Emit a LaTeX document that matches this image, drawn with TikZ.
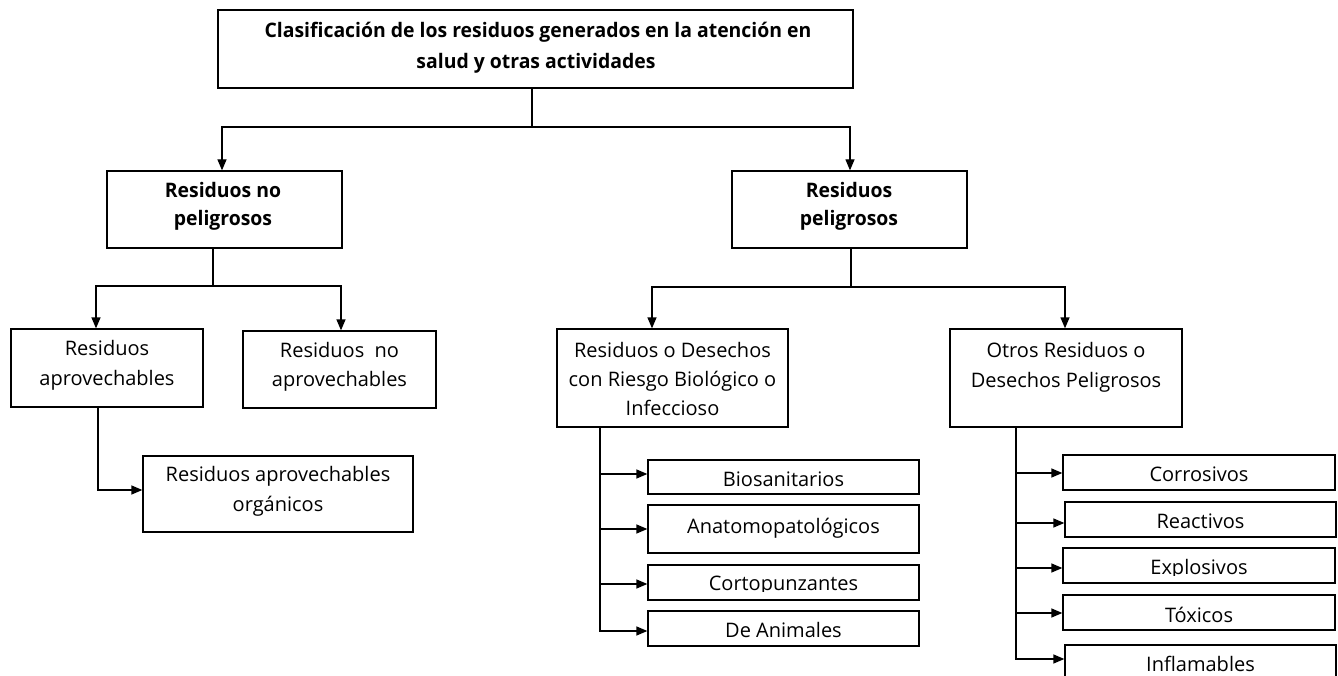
\documentclass[tikz,border=0pt]{standalone}
\usepackage{fontspec}
\setmainfont{Open Sans}
\newfontfamily\bfcond{Open Sans}[FakeStretch=0.97]
\usetikzlibrary{arrows.meta}
\newcommand\bx[5]{\node[box,minimum width={#4-#2},minimum height={#5-#3}] (#1) at ({(#2+#4)/2},{(#3+#5)/2}) {};}
\begin{document}
\begin{tikzpicture}[x=1pt,y=-1pt,
  box/.style={draw, line width=1.3pt, inner sep=0pt, rectangle},
  lbl/.style={inner sep=0pt, anchor=base, font=\fontsize{20}{24}\selectfont},
  blbl/.style={inner sep=0pt, anchor=base, font=\fontsize{20}{24}\selectfont\bfcond\bfseries},
  conn/.style={line width=1.3pt},
  arr/.style={line width=1.3pt, -{Triangle[length=11pt,width=9pt]}}]
\useasboundingbox (0,0) rectangle (1338,676);

% boxes
\bx{top}{218}{10}{853}{88}
\bx{np}{107}{171}{342}{248}
\bx{pe}{732}{171}{967}{248}
\bx{ra}{11}{329}{203}{407}
\bx{rna}{243}{331}{436}{408}
\bx{rao}{143}{456}{413}{532}
\bx{rb}{557}{329}{788}{427}
\bx{ro}{950}{329}{1182}{427}
\bx{bio}{648}{460}{919}{494}
\bx{ana}{648}{505}{919}{553}
\bx{cor}{648}{565}{919}{600}
\bx{ani}{648}{611}{919}{646}
\bx{crr}{1063}{455}{1335}{490}
\bx{rea}{1065}{502}{1336}{537}
\bx{exq}{1063}{548}{1335}{583}
\bx{tox}{1063}{595}{1335}{630}
\bx{inf}{1065}{645}{1336}{700}

% texts
\node[blbl] (top1) at (538,38) {Clasificación de los residuos generados en la atención en};
\node[blbl] (top2) at (536,69) {salud y otras actividades};
\node[blbl] (np1) at (223,198) {Residuos no};
\node[blbl] (np2) at (223,226) {peligrosos};
\node[blbl] (pe1) at (849,198) {Residuos};
\node[blbl] (pe2) at (849,226) {peligrosos};
\node[lbl] (ra1) at (ra.center |- 0,355) {Residuos};
\node[lbl] (ra2) at (ra.center |- 0,385) {aprovechables};
\node[lbl] (rna1) at (rna.center |- 0,357) {Residuos\ \ no};
\node[lbl] (rna2) at (rna.center |- 0,386) {aprovechables};
\node[lbl] (rao1) at (rao.center |- 0,481) {Residuos aprovechables};
\node[lbl] (rao2) at (rao.center |- 0,511) {orgánicos};
\node[lbl] (rb1) at (rb.center |- 0,357) {Residuos o Desechos};
\node[lbl] (rb2) at (rb.center |- 0,386) {con Riesgo Biológico o};
\node[lbl] (rb3) at (rb.center |- 0,415) {Infeccioso};
\node[lbl] (ro1) at (ro.center |- 0,357) {Otros Residuos o};
\node[lbl] (ro2) at (ro.center |- 0,387) {Desechos Peligrosos};
\node[lbl] (bio1) at (bio.center |- 0,486) {Biosanitarios};
\node[lbl] (ana1) at (ana.center |- 0,533) {Anatomopatológicos};
\begin{scope}
\clip (640,560) rectangle (930,591);
\node[lbl] (cor1) at (cor.center |- 0,590) {Cortopunzantes};
\end{scope}
\node[lbl] (ani1) at (ani.center |- 0,637) {De Animales};
\node[lbl] (crr1) at (crr.center |- 0,481) {Corrosivos};
\node[lbl] (rea1) at (rea.center |- 0,528) {Reactivos};
\begin{scope}
\clip (1055,540) rectangle (1338,575);
\node[lbl] (exq1) at (exq.center |- 0,574) {Explosivos};
\end{scope}
\node[lbl] (tox1) at (tox.center |- 0,622) {Tóxicos};
\node[lbl] (inf1) at (inf.center |- 0,671) {Inflamables};

% connectors
\coordinate (j0) at (532,127);
\draw[conn] (top.south -| j0) -- (j0);
\draw[arr] (j0) -| (np.north -| 222,0);
\draw[arr] (j0) -| (pe.north -| 850,0);

\coordinate (j1) at (213,286);
\draw[conn] (np.south -| j1) -- (j1);
\draw[arr] (j1) -| (ra.north -| 96,0);
\draw[arr] (j1) -| (rna.north -| 341,0);
\draw[arr] (ra.south -| 98,0) |- (rao.west |- 0,490);

\coordinate (j2) at (851,287);
\draw[conn] (pe.south -| j2) -- (j2);
\draw[arr] (j2) -| (rb.north -| 652,0);
\draw[arr] (j2) -| (ro.north -| 1065,0);

\draw[arr] (rb.south -| 600,0) |- (bio.west |- 0,474);
\draw[arr] (rb.south -| 600,0) |- (ana.west |- 0,529);
\draw[arr] (rb.south -| 600,0) |- (cor.west |- 0,584);
\draw[arr] (rb.south -| 600,0) |- (ani.west |- 0,631);

\draw[arr] (ro.south -| 1016,0) |- (crr.west |- 0,473);
\draw[arr] (ro.south -| 1016,0) |- (rea.west |- 0,523);
\draw[arr] (ro.south -| 1016,0) |- (exq.west |- 0,568);
\draw[arr] (ro.south -| 1016,0) |- (tox.west |- 0,613);
\draw[arr] (ro.south -| 1016,0) |- (inf.west |- 0,659);
\end{tikzpicture}
\end{document}
